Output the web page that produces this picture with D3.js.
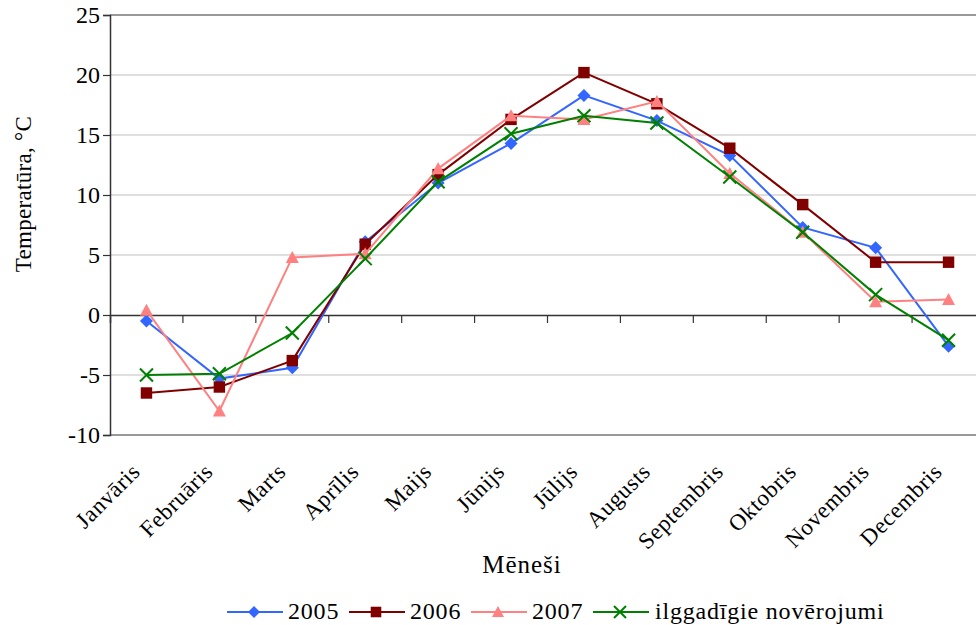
<!DOCTYPE html>
<html>
<head>
<meta charset="utf-8">
<script src="https://cdn.jsdelivr.net/npm/d3@7"></script>
<style>
  html, body { margin: 0; padding: 0; background: #fff; }
  svg { display: block; }
  svg text { font-family: "Liberation Serif", "Times New Roman", serif; fill: #000; }
</style>
</head>
<body>
<svg id="chart" width="976" height="625"></svg>
<script>
// Monthly mean air temperature, °C
const months = ["Janvāris", "Februāris", "Marts", "Aprīlis", "Maijs", "Jūnijs",
                "Jūlijs", "Augusts", "Septembris", "Oktobris", "Novembris", "Decembris"];
const t2005 = [-0.5, -5.3, -4.4, 6.1, 11.0, 14.3, 18.3, 16.2, 13.3, 7.3, 5.6, -2.6];
const t2006 = [-6.5, -6.0, -3.8, 5.9, 11.7, 16.3, 20.2, 17.6, 13.9, 9.2, 4.4, 4.4];
const t2007 = [0.4, -8.0, 4.8, 5.1, 12.2, 16.6, 16.3, 17.8, 11.8, 6.9, 1.1, 1.3];
const tLongTerm = [-5.0, -4.9, -1.5, 4.7, 11.1, 15.1, 16.6, 16.0, 11.5, 6.9, 1.7, -2.1];
const yTicks = [-10, -5, 0, 5, 10, 15, 20, 25];
const seriesNames = ["2005", "2006", "2007", "ilggadīgie novērojumi"];

const series = [
  { name: seriesNames[0], values: t2005, color: "#3366FF", symbol: "diamond" },
  { name: seriesNames[1], values: t2006, color: "#800000", symbol: "square" },
  { name: seriesNames[2], values: t2007, color: "#FF8080", symbol: "triangle" },
  { name: seriesNames[3], values: tLongTerm, color: "#008000", symbol: "cross" }
];

const svg = d3.select("#chart");
const plot = { left: 110, right: 985, top: 15, bottom: 435 };

const x = d3.scaleBand().domain(months).range([plot.left, plot.right]).padding(0);
const y = d3.scaleLinear().domain([-10, 25]).range([plot.bottom, plot.top]);
const cx = m => x(m) + x.bandwidth() / 2;

// horizontal gridlines
svg.append("g")
  .selectAll("line")
  .data(yTicks.filter(v => v !== 0 && v !== -10 && v !== 25))
  .join("line")
  .attr("x1", plot.left).attr("x2", plot.right)
  .attr("y1", d => y(d)).attr("y2", d => y(d))
  .attr("stroke", "#c0c0c0").attr("stroke-width", 1.2);

// plot frame top and bottom
svg.append("line").attr("x1", plot.left).attr("x2", plot.right).attr("y1", plot.top).attr("y2", plot.top)
  .attr("stroke", "#999").attr("stroke-width", 2);
svg.append("line").attr("x1", plot.left).attr("x2", plot.right).attr("y1", plot.bottom).attr("y2", plot.bottom)
  .attr("stroke", "#999").attr("stroke-width", 2);

// y axis
const yAxis = d3.axisLeft(y).tickValues(yTicks).tickSize(7).tickPadding(3);
const gy = svg.append("g").attr("transform", `translate(${plot.left},0)`).call(yAxis);
gy.attr("font-family", null).attr("font-size", null);
gy.select(".domain").attr("stroke", "#333").attr("stroke-width", 1.5);
gy.selectAll(".tick line").attr("stroke", "#333").attr("stroke-width", 1.2);
gy.selectAll(".tick text")
  .attr("font-size", 24).attr("fill", "#000")
  .text(d => d < 0 ? "-" + Math.abs(d) : d);

// category axis on the zero line
const xAxisLine = d3.axisBottom(x).tickSize(8).tickFormat("");
const gx = svg.append("g").attr("transform", `translate(0,${y(0)})`).call(xAxisLine);
gx.select(".domain").attr("stroke", "#333").attr("stroke-width", 1.5);
gx.selectAll(".tick").attr("transform", d => `translate(${x(d) + x.bandwidth()},0)`);
gx.selectAll(".tick line").attr("stroke", "#333").attr("stroke-width", 1.2);

// month labels, rotated below the plot
svg.append("g")
  .selectAll("text")
  .data(months)
  .join("text")
  .attr("transform", d => `translate(${cx(d) - 5},${plot.bottom + 38}) rotate(-45)`)
  .attr("text-anchor", "end")
  .attr("font-size", 23)
  .attr("letter-spacing", 0.6)
  .text(d => d);

// axis titles
svg.append("text")
  .attr("transform", `translate(31,194) rotate(-90)`)
  .attr("text-anchor", "middle").attr("font-size", 23).attr("letter-spacing", 0.3)
  .text("Temperatūra, °C");
svg.append("text")
  .attr("x", 522).attr("y", 573)
  .attr("text-anchor", "middle").attr("font-size", 25).attr("letter-spacing", 1)
  .text("Mēneši");

// marker drawing helper
function markerPath(symbol, r) {
  switch (symbol) {
    case "diamond":
      return `M0,${-r}L${r},0L0,${r}L${-r},0Z`;
    case "square":
      return `M${-r * 0.88},${-r * 0.88}H${r * 0.88}V${r * 0.88}H${-r * 0.88}Z`;
    case "triangle":
      return `M0,${-r}L${r},${r * 0.85}L${-r},${r * 0.85}Z`;
    default:
      return `M${-r},${-r}L${r},${r}M${-r},${r}L${r},${-r}`;
  }
}
function drawMarker(g, s, px, py, r) {
  const p = g.append("path")
    .attr("d", markerPath(s.symbol, r))
    .attr("transform", `translate(${px},${py})`);
  if (s.symbol === "cross") {
    p.attr("stroke", s.color).attr("stroke-width", 2).attr("fill", "none");
  } else {
    p.attr("fill", s.color);
  }
}

const line = d3.line()
  .x((d, i) => cx(months[i]))
  .y(d => y(d));

const gSeries = svg.append("g");
series.forEach(s => {
  const g = gSeries.append("g");
  g.append("path").attr("d", line(s.values))
    .attr("fill", "none").attr("stroke", s.color).attr("stroke-width", 2);
  s.values.forEach((v, i) => drawMarker(g, s, cx(months[i]), y(v), 6.5));
});

// legend
const legendItems = [
  { x0: 227, tx: 288 },
  { x0: 349, tx: 410 },
  { x0: 471, tx: 532 },
  { x0: 593, tx: 655 }
];
const legY = 612;
series.forEach((s, i) => {
  const g = svg.append("g");
  const it = legendItems[i];
  g.append("line").attr("x1", it.x0).attr("x2", it.x0 + 56).attr("y1", legY).attr("y2", legY)
    .attr("stroke", s.color).attr("stroke-width", 2);
  drawMarker(g, s, it.x0 + 27, legY, 6);
  g.append("text").attr("x", it.tx).attr("y", legY + 6.5)
    .attr("font-size", 24).attr("letter-spacing", 0.8).text(s.name);
});
</script>
</body>
</html>
